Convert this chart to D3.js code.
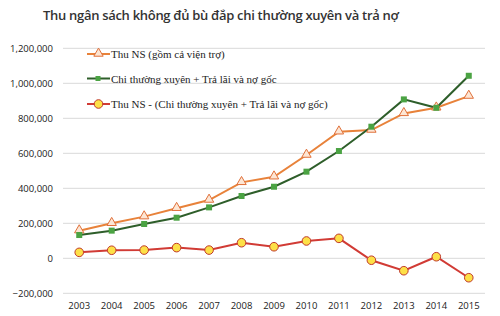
<!DOCTYPE html>
<html>
<head>
<meta charset="utf-8">
<script src="https://cdn.jsdelivr.net/npm/d3@7"></script>
<style>
body{margin:0;background:#fff;}
</style>
</head>
<body>
<script>
var years = ["2003","2004","2005","2006","2007","2008","2009","2010","2011","2012","2013","2014","2015"];
var thuNS = [158000,200000,238000,286000,333000,434000,466000,590000,723000,733000,828000,860000,927000];
var chiTX = [133000,158000,196000,232000,291000,356000,409000,495000,613000,752000,908000,860000,1043000];
var chenhLech = [34000,46000,47000,61000,47000,89000,66000,99000,114000,-11000,-71000,9000,-111000];
var yTicks = [-200000,0,200000,400000,600000,800000,1000000,1200000];
var seriesNames = ["Thu NS (gồm cả viện trợ)","Chi thường xuyên + Trả lãi và nợ gốc","Thu NS - (Chi thường xuyên + Trả lãi và nợ gốc)"];

var W = 500, H = 316;
var svg = d3.select("body").append("svg").attr("width", W).attr("height", H);

svg.append("text")
  .attr("x", 43).attr("y", 20)
  .style("font-family", "'Open Sans', sans-serif")
  .style("font-size", "13px")
  .style("font-weight", "600")
  .style("letter-spacing", "-0.3px")
  .style("fill", "#333")
  .text("Thu ngân sách không đủ bù đắp chi thường xuyên và trả nợ");

var x = d3.scaleBand().domain(years).range([63, 485]);
var y = d3.scaleLinear().domain([-200000, 1200000]).range([293.3, 48.3]);
function cx(d, i){ return x(years[i]) + x.bandwidth()/2; }

// grid
svg.selectAll(".grid").data(yTicks).enter().append("line")
  .attr("x1", 63).attr("x2", 485)
  .attr("y1", function(d){ return y(d); }).attr("y2", function(d){ return y(d); })
  .style("stroke", "#d9d9d9").style("stroke-width", 1);

var fmt = d3.format(",");
svg.selectAll(".ylab").data(yTicks).enter().append("text")
  .attr("x", 53).attr("y", function(d){ return y(d) + 3.5; })
  .attr("text-anchor", "end")
  .style("font-family", "'Open Sans', sans-serif").style("font-size", "9.5px").style("fill", "#222")
  .text(function(d){ return fmt(d); });

svg.selectAll(".xlab").data(years).enter().append("text")
  .attr("x", function(d){ return x(d) + x.bandwidth()/2; }).attr("y", 309)
  .attr("text-anchor", "middle")
  .style("font-family", "'Open Sans', sans-serif").style("font-size", "9.5px").style("fill", "#222")
  .text(function(d){ return d; });

var line = d3.line().x(cx).y(function(d){ return y(d); });

// orange
svg.append("path").datum(thuNS).attr("d", line)
  .style("fill", "none").style("stroke", "#e8823a").style("stroke-width", 2);
// green
svg.append("path").datum(chiTX).attr("d", line)
  .style("fill", "none").style("stroke", "#2e5e2a").style("stroke-width", 2);
// red
svg.append("path").datum(chenhLech).attr("d", line)
  .style("fill", "none").style("stroke", "#d13b35").style("stroke-width", 2);

var tri = d3.symbol().type(d3.symbolTriangle).size(38);
svg.selectAll(".tri").data(thuNS).enter().append("path")
  .attr("d", tri)
  .attr("transform", function(d, i){ return "translate(" + cx(d, i) + "," + (y(d) - 0.5) + ")"; })
  .style("fill", "#fde6d4").style("stroke", "#e0703a").style("stroke-width", 1);

svg.selectAll(".sq").data(chiTX).enter().append("rect")
  .attr("x", function(d, i){ return cx(d, i) - 3; })
  .attr("y", function(d){ return y(d) - 3; })
  .attr("width", 6).attr("height", 6)
  .style("fill", "#4ba343");

svg.selectAll(".dot").data(chenhLech).enter().append("circle")
  .attr("cx", cx).attr("cy", function(d){ return y(d); }).attr("r", 4.3)
  .style("fill", "#fde047").style("stroke", "#c0392b").style("stroke-width", 1);

// legend
var legY = [54, 78.5, 104];
var lg = svg.selectAll(".leg").data(seriesNames).enter().append("g")
  .attr("transform", function(d, i){ return "translate(87," + legY[i] + ")"; });
var legStroke = ["#e8823a", "#2e5e2a", "#d13b35"];
lg.append("line").attr("x1", 0).attr("x2", 23).attr("y1", 0).attr("y2", 0)
  .style("stroke", function(d, i){ return legStroke[i]; }).style("stroke-width", 2);
lg.filter(function(d, i){ return i == 0; }).append("path").attr("d", tri)
  .attr("transform", "translate(11.5,-0.5)")
  .style("fill", "#fde6d4").style("stroke", "#e0703a");
lg.filter(function(d, i){ return i == 1; }).append("rect")
  .attr("x", 8.5).attr("y", -2.5).attr("width", 5).attr("height", 5).style("fill", "#4ba343");
lg.filter(function(d, i){ return i == 2; }).append("circle")
  .attr("cx", 11.5).attr("cy", 0).attr("r", 4.3)
  .style("fill", "#fde047").style("stroke", "#c0392b");
lg.append("text").attr("x", 24).attr("y", 4)
  .style("font-family", "'Liberation Serif', serif").style("font-size", "11px").style("fill", "#222")
  .text(function(d){ return d; });
</script>
</body>
</html>
